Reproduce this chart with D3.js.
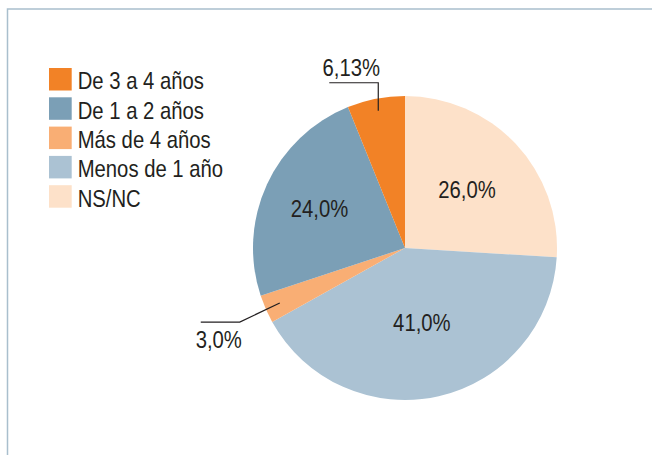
<!DOCTYPE html>
<html lang="es">
<head>
<meta charset="utf-8">
<title>Antigüedad</title>
<script src="https://cdn.jsdelivr.net/npm/d3@7"></script>
<style>
  body { margin: 0; background: #fff; }
  svg { display: block; }
  text { font-family: "Liberation Sans", Arial, sans-serif; font-size: 24px; fill: #231f20; }
</style>
</head>
<body>
<div id="chart"></div>
<script>
// data
var categories = ["NS/NC", "Menos de 1 año", "Más de 4 años", "De 1 a 2 años", "De 3 a 4 años"];
var values = [26.0, 41.0, 3.0, 24.0, 6.13];
var valueLabels = ["26,0%", "41,0%", "3,0%", "24,0%", "6,13%"];
var legendOrder = ["De 3 a 4 años", "De 1 a 2 años", "Más de 4 años", "Menos de 1 año", "NS/NC"];
var palette = ["#fde1c9", "#abc2d3", "#f9ae74", "#7b9fb6", "#f28226"];

var width = 652, height = 455;
var cx = 405, cy = 248, radius = 152;
var squeeze = 0.845; // no condensed face installed, so narrow the text by hand

// slices that get their label outside, with a leader line
var outside = { "De 3 a 4 años": "up", "Más de 4 años": "left" };
// label radius factor for the inside labels
var labelR = { "NS/NC": 0.56, "Menos de 1 año": 0.5, "De 1 a 2 años": 0.62 };

var color = d3.scaleOrdinal().domain(categories).range(palette);

var data = categories.map(function (c, i) {
  return { name: c, value: values[i], label: valueLabels[i] };
});

function narrow(sel, x, y) {
  sel.attr("transform", "translate(" + x + "," + y + ") scale(" + squeeze + ",1)");
}

var svg = d3.select("#chart")
  .append("svg")
  .attr("width", width)
  .attr("height", height);

// frame (top and left rule)
svg.append("path")
  .attr("d", "M7.5," + height + "V9H" + width)
  .attr("fill", "none")
  .attr("stroke", "#a9bfcd")
  .attr("stroke-width", 1.5);

var pie = d3.pie().sort(null).value(function (d) { return d.value; });
var arc = d3.arc().innerRadius(0).outerRadius(radius);

var g = svg.append("g")
  .attr("transform", "translate(" + cx + "," + cy + ")");

var arcs = pie(data);

g.selectAll("path.slice")
  .data(arcs)
  .enter()
  .append("path")
  .attr("class", "slice")
  .attr("d", arc)
  .attr("fill", function (d) { return color(d.data.name); });

// inside labels
g.selectAll("text.in")
  .data(arcs.filter(function (d) { return !outside[d.data.name]; }))
  .enter()
  .append("text")
  .attr("class", "in")
  .attr("text-anchor", "middle")
  .attr("dy", "0.36em")
  .each(function (d) {
    var r = radius * labelR[d.data.name];
    var c = d3.arc().innerRadius(r).outerRadius(r).centroid(d);
    narrow(d3.select(this), c[0], c[1]);
  })
  .text(function (d) { return d.data.label; });

// outside labels with leader lines
arcs.filter(function (d) { return outside[d.data.name]; }).forEach(function (d) {
  var side = outside[d.data.name];
  var r = radius * (side === "up" ? 0.92 : 0.9);
  var p = d3.arc().innerRadius(r).outerRadius(r).centroid(d);
  var pts, tx, ty;
  if (side === "up") {
    var e = [p[0], p[1] - 28];
    pts = [p, e, [e[0] - 49, e[1]]];
    tx = e[0] - 27; ty = e[1] - 7;
  } else {
    var e2 = [p[0] - 40, p[1] + 19];
    pts = [p, e2, [e2[0] - 39, e2[1]]];
    tx = e2[0] - 21; ty = e2[1] + 26;
  }
  g.append("path")
    .attr("d", d3.line()(pts))
    .attr("fill", "none")
    .attr("stroke", "#231f20")
    .attr("stroke-width", 1.2);
  g.append("text")
    .attr("text-anchor", "middle")
    .call(narrow, tx, ty)
    .text(d.data.label);
});

// legend
var legend = svg.append("g")
  .attr("transform", "translate(49,68)");

var item = legend.selectAll("g")
  .data(legendOrder)
  .enter()
  .append("g")
  .attr("transform", function (d, i) { return "translate(0," + (i * 29.3) + ")"; });

item.append("rect")
  .attr("width", 22.7)
  .attr("height", 22.5)
  .attr("fill", function (d) { return color(d); });

item.append("text")
  .call(narrow, 28.7, 21.3)
  .text(function (d) { return d; });
</script>
</body>
</html>
